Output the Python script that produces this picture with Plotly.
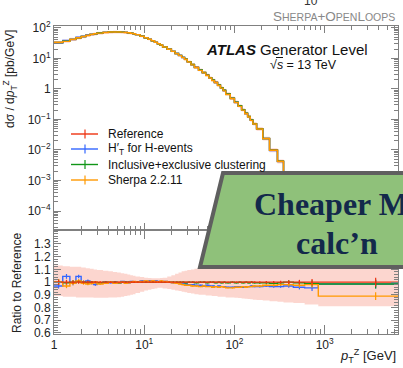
import plotly.graph_objects as go

# ---------------- data ----------------
edges = [1.0, 1.25, 1.5, 1.75, 2.0, 2.25, 2.5, 2.75, 3.0, 3.5, 4, 4.5, 5, 5.5, 6, 6.5, 7, 7.5, 8, 9,
         10, 11, 12, 13, 14, 15, 16, 18, 20, 22, 24, 26, 28, 30, 33, 36, 40, 44, 48, 52,
         56, 60, 65, 70, 75, 80, 90, 100, 110, 120, 130, 140, 150, 160, 176, 206, 245, 300, 350, 450,
         600, 850, 6500]

ref = [33, 37, 42, 47, 52, 57, 61, 64, 68, 71,
       73, 74, 73.5, 72.5, 71, 69, 66.5, 64, 60, 53,
       47, 42, 37.5, 33.5, 30, 27, 23.5, 20, 17, 14.5,
       12.5, 10.8, 9.4, 7.8, 6.3, 5.1, 4.2, 3.45, 2.85, 2.35,
       1.97, 1.65, 1.35, 1.1, 0.9, 0.69, 0.5, 0.37, 0.28, 0.21,
       0.16, 0.125, 0.097, 0.073, 0.050, 0.024, 0.010, 0.0043, 0.0017, 0.00055,
       0.00015, 0.0000025]

ratio_ht = [0.97, 1.045, 0.99, 1.045, 1.0, 1.01, 0.99, 0.98, 0.99, 1.0,
            0.995, 1.0, 0.99, 1.005, 1.0, 0.995, 1.005, 1.0, 1.0, 1.01,
            1.005, 1.01, 1.005, 1.01, 1.005, 1.0, 1.005, 1.0, 0.995, 0.995,
            0.99, 0.985, 0.985, 0.98, 0.98, 0.975, 0.975, 0.97, 0.975, 0.97,
            0.97, 0.965, 0.97, 0.965, 0.965, 0.96, 0.96, 0.965, 0.965, 0.96,
            0.965, 0.965, 0.97, 0.965, 0.965, 0.97, 0.965, 0.965, 0.97, 0.96,
            0.955, 0.985]

ratio_incl = [1.0, 0.995, 1.0, 1.005, 1.0, 0.995, 1.0, 1.0, 0.995, 1.0,
              1.0, 1.0, 0.995, 1.0, 1.0, 1.0, 1.0, 1.0, 1.0, 1.0,
              1.0, 1.0, 1.0, 1.0, 1.0, 1.0, 1.0, 1.0, 1.0, 1.0,
              1.0, 1.0, 0.995, 1.0, 1.0, 0.995, 1.0, 1.0, 0.995, 1.0,
              1.0, 0.995, 1.0, 0.995, 1.0, 0.995, 1.0, 0.995, 1.0, 0.995,
              1.0, 0.995, 1.0, 0.995, 0.995, 0.995, 0.99, 0.995, 1.0, 0.995,
              0.99, 0.985]

ratio_sherpa = [1.0, 0.97, 0.99, 1.01, 0.99, 0.985, 0.99, 1.0, 0.985, 0.99,
                1.0, 0.99, 0.995, 1.0, 0.99, 0.995, 1.0, 1.005, 1.0, 1.005,
                1.01, 1.005, 1.01, 1.005, 1.0, 1.01, 1.005, 1.0, 0.995, 0.99,
                0.985, 0.98, 0.975, 0.975, 0.97, 0.97, 0.965, 0.97, 0.965, 0.965,
                0.96, 0.965, 0.96, 0.965, 0.96, 0.955, 0.955, 0.96, 0.96, 0.965,
                0.96, 0.965, 0.965, 0.97, 0.97, 0.975, 0.975, 0.98, 0.98, 0.975,
                0.98, 0.89]

band_hi = [1.13, 1.125, 1.12, 1.12, 1.115, 1.11, 1.105, 1.10, 1.095, 1.09,
           1.085, 1.08, 1.075, 1.07, 1.065, 1.06, 1.055, 1.05, 1.045, 1.04,
           1.035, 1.032, 1.03, 1.03, 1.03, 1.032, 1.035, 1.045, 1.055, 1.065,
           1.075, 1.085, 1.09, 1.095, 1.10, 1.105, 1.11, 1.11, 1.115, 1.115,
           1.12, 1.12, 1.12, 1.12, 1.12, 1.125, 1.125, 1.13, 1.13, 1.13,
           1.135, 1.135, 1.135, 1.14, 1.14, 1.14, 1.14, 1.145, 1.145, 1.15,
           1.15, 1.15]

band_lo = [0.89, 0.885, 0.885, 0.88, 0.88, 0.88, 0.88, 0.878, 0.878, 0.878,
           0.88, 0.88, 0.882, 0.885, 0.89, 0.895, 0.90, 0.905, 0.915, 0.925,
           0.935, 0.94, 0.945, 0.95, 0.955, 0.955, 0.95, 0.945, 0.94, 0.935,
           0.93, 0.925, 0.92, 0.915, 0.91, 0.905, 0.90, 0.90, 0.895, 0.895,
           0.89, 0.89, 0.885, 0.885, 0.885, 0.88, 0.88, 0.878, 0.875, 0.872,
           0.87, 0.868, 0.865, 0.862, 0.86, 0.855, 0.85, 0.845, 0.84, 0.835,
           0.825, 0.81]

rel_err = [0.02, 0.018, 0.015, 0.013, 0.011, 0.01, 0.009, 0.008, 0.006, 0.005,
           0.004, 0.004, 0.004, 0.004, 0.004, 0.004, 0.004, 0.004, 0.004, 0.004,
           0.004, 0.004, 0.004, 0.004, 0.004, 0.004, 0.004, 0.004, 0.004, 0.004,
           0.004, 0.004, 0.004, 0.004, 0.004, 0.004, 0.004, 0.004, 0.004, 0.004,
           0.004, 0.004, 0.004, 0.004, 0.004, 0.004, 0.004, 0.004, 0.004, 0.004,
           0.005, 0.005, 0.006, 0.006, 0.007, 0.008, 0.009, 0.010, 0.014, 0.018,
           0.025, 0.035]

series_names = ["Reference", "H\u2032<sub>T</sub> for H-events",
                "Inclusive+exclusive clustering", "Sherpa 2.2.11"]
series_colors = ["#EE3311", "#3366FF", "#109618", "#FF9900"]

x_tick_vals = [1, 10, 100, 1000]
x_tick_text = ["1", "10<sup>1</sup>", "10<sup>2</sup>", "10<sup>3</sup>"]
y_tick_vals = [1e-4, 1e-3, 1e-2, 1e-1, 1, 10, 100]
y_tick_text = ["10<sup>\u22124</sup>", "10<sup>\u22123</sup>", "10<sup>\u22122</sup>",
               "10<sup>\u22121</sup>", "1", "10<sup>1</sup>", "10<sup>2</sup>"]
r_tick_vals = [0.6, 0.7, 0.8, 0.9, 1.0, 1.1, 1.2, 1.3]
r_tick_text = ["0.6", "0.7", "0.8", "0.9", "1", "1.1", "1.2", "1.3"]

# ---------------- layout geometry ----------------
W, H = 403, 368
ML, MR, MT, MB = 54, 5, 26, 34
PW, PH = W - ML - MR, H - MT - MB
SPLIT = (H - MB - 230) / PH


def px(x):
    return (x - ML) / PW


def py(y):
    return (H - MB - y) / PH


def step(vals):
    return list(vals) + [vals[-1]]


centers = [(edges[i] + edges[i + 1]) / 2 for i in range(len(ref))]
ratios = [[1.0] * len(ref), ratio_ht, ratio_incl, ratio_sherpa]
BAND = "rgba(238,51,17,0.2)"

fig = go.Figure()

# top panel band
fig.add_trace(go.Scatter(x=edges, y=step([r * l for r, l in zip(ref, band_lo)]), mode="lines",
                         line=dict(width=0, shape="hv"), xaxis="x", yaxis="y", showlegend=False,
                         hoverinfo="skip"))
fig.add_trace(go.Scatter(x=edges, y=step([r * h for r, h in zip(ref, band_hi)]), mode="lines",
                         line=dict(width=0, shape="hv"), fill="tonexty",
                         fillcolor=BAND, xaxis="x", yaxis="y",
                         showlegend=False, hoverinfo="skip"))
for rat, col in zip(ratios, series_colors):
    fig.add_trace(go.Scatter(x=edges, y=step([r * q for r, q in zip(ref, rat)]), mode="lines",
                             line=dict(color=col, width=1.4, shape="hv"),
                             xaxis="x", yaxis="y", showlegend=False))

# ratio panel band
fig.add_trace(go.Scatter(x=edges, y=step(band_lo), mode="lines",
                         line=dict(width=0, shape="hv"), xaxis="x2", yaxis="y2",
                         showlegend=False, hoverinfo="skip"))
fig.add_trace(go.Scatter(x=edges, y=step(band_hi), mode="lines",
                         line=dict(width=0, shape="hv"), fill="tonexty",
                         fillcolor=BAND, xaxis="x2", yaxis="y2",
                         showlegend=False, hoverinfo="skip"))
order = [1, 2, 3, 0]
for k in order:
    rat, col = ratios[k], series_colors[k]
    fig.add_trace(go.Scatter(x=edges, y=step(rat), mode="lines",
                             line=dict(color=col, width=1.4, shape="hv"),
                             xaxis="x2", yaxis="y2", showlegend=False))
    fig.add_trace(go.Scatter(x=centers, y=rat, mode="markers",
                             marker=dict(size=1, color=col),
                             error_y=dict(type="data", array=[q * e for q, e in zip(rat, rel_err)],
                                          width=0, thickness=1.2, color=col),
                             xaxis="x2", yaxis="y2", showlegend=False))

AX = "#808080"
TF = dict(family="Liberation Sans, Arial, sans-serif", size=12, color="#222")


def log_minor(k0, k1):
    return [m * 10 ** k for k in range(k0, k1) for m in range(2, 10)]


common_x = dict(type="log", range=[0, 3.813], showgrid=False, zeroline=False,
                showline=True, linecolor=AX, linewidth=1, mirror="ticks",
                ticks="inside", tickcolor=AX, tickvals=x_tick_vals,
                tickfont=TF)

fig.update_layout(
    width=W, height=H,
    margin=dict(l=ML, r=MR, t=MT, b=MB),
    paper_bgcolor="white", plot_bgcolor="white",
    showlegend=False,
    xaxis=dict(common_x, domain=[0, 1], anchor="y", showticklabels=False, ticklen=7,
               minor=dict(tickvals=log_minor(0, 4), ticks="inside", ticklen=4, tickcolor=AX)),
    xaxis2=dict(common_x, domain=[0, 1], anchor="y2", matches="x", ticktext=x_tick_text,
                ticklen=9, minor=dict(tickvals=log_minor(0, 4), ticks="inside", ticklen=5, tickcolor=AX)),
    yaxis=dict(type="log", domain=[SPLIT, 1], range=[-4.62, 2.06], showgrid=False,
               zeroline=False, showline=True, linecolor=AX, linewidth=1, mirror="ticks",
               ticks="inside", tickcolor=AX, ticklen=7, tickvals=y_tick_vals,
               ticktext=y_tick_text, tickfont=TF,
               minor=dict(tickvals=log_minor(-5, 2), ticks="inside", ticklen=4, tickcolor=AX)),
    yaxis2=dict(domain=[0, SPLIT], range=[0.592, 1.41], showgrid=False, zeroline=False,
                showline=True, linecolor=AX, linewidth=1, mirror="ticks",
                ticks="inside", tickcolor=AX, ticklen=7, tickvals=r_tick_vals,
                ticktext=r_tick_text, tickfont=TF,
                minor=dict(dtick=0.02, ticks="inside", ticklen=4, tickcolor=AX)),
)

ann = []
FF = "Liberation Sans, Arial, sans-serif"
# axis titles
ann.append(dict(x=px(10), y=py(79), text="d\u03c3 / d<i>p</i><sub>T</sub><sup>Z</sup> [pb/GeV]",
                textangle=-90, xanchor="center", yanchor="middle",
                showarrow=False, xref="paper", yref="paper",
                font=dict(family=FF, size=12, color="#222")))
ann.append(dict(x=px(17), y=py(283), text="Ratio to Reference", textangle=-90,
                xanchor="center", yanchor="middle",
                showarrow=False, xref="paper", yref="paper",
                font=dict(family=FF, size=12, color="#222")))
ann.append(dict(x=px(398), y=py(356), text="<i>p</i><sub>T</sub><sup>Z</sup> [GeV]",
                xanchor="right", yanchor="middle", showarrow=False, xref="paper", yref="paper",
                font=dict(family=FF, size=13, color="#222")))
# labels
ann.append(dict(x=px(370), y=py(49), text="<b><i>ATLAS</i></b> Generator Level",
                xanchor="right", yanchor="middle", showarrow=False, xref="paper", yref="paper",
                font=dict(family=FF, size=15, color="#111")))
ann.append(dict(x=px(303), y=py(65),
                text="\u221a<i>s</i> = 13 TeV",
                xanchor="center", yanchor="middle", showarrow=False, xref="paper", yref="paper",
                font=dict(family=FF, size=12.5, color="#111")))
shapes = []
# overline of the sqrt
shapes.append(dict(type="line", xref="paper", yref="paper", x0=px(276), x1=px(283),
                   y0=py(57.5), y1=py(57.5), line=dict(color="#111", width=1)))
sm = "<span style='font-size:10.5px'>"
ann.append(dict(x=px(397), y=py(17),
                text=f"S{sm}HERPA</span>+O{sm}PEN</span>L{sm}OOPS</span>",
                xanchor="right", yanchor="middle", showarrow=False, xref="paper", yref="paper",
                font=dict(family=FF, size=13.5, color="#888")))
ann.append(dict(x=px(311), y=py(1), text="10", xanchor="center", yanchor="middle",
                showarrow=False, xref="paper", yref="paper",
                font=dict(family=FF, size=12, color="#333")))

leg_rows = [134, 149, 164.5, 180]
for name, col, yy in zip(series_names, series_colors, leg_rows):
    shapes.append(dict(type="line", xref="paper", yref="paper", x0=px(71), x1=px(98),
                       y0=py(yy), y1=py(yy), line=dict(color=col, width=1.4)))
    shapes.append(dict(type="line", xref="paper", yref="paper", x0=px(85), x1=px(85),
                       y0=py(yy - 4.5), y1=py(yy + 4.5), line=dict(color=col, width=1.2)))
    ann.append(dict(x=px(106), y=py(yy), text=name, xanchor="left", yanchor="middle",
                    showarrow=False, xref="paper", yref="paper",
                    font=dict(family=FF, size=12, color="#111")))

# overlaid green box
bx = [(223, 173), (425, 173), (425, 267), (200, 267)]
path = "M " + " L ".join(f"{px(a):.4f},{py(b):.4f}" for a, b in bx) + " Z"
shapes.append(dict(type="path", xref="paper", yref="paper", path=path,
                   fillcolor="#8fc17a", line=dict(color="#5f5f5f", width=4), layer="above"))
SF = "Liberation Serif, Times New Roman, serif"
ann.append(dict(x=px(252), y=py(204), text="<b>Cheaper ME</b>", xanchor="left", yanchor="middle",
                showarrow=False, xref="paper", yref="paper",
                font=dict(family=SF, size=32, color="#13294b")))
ann.append(dict(x=px(337), y=py(243), text="<b>calc\u2019n</b>", xanchor="center", yanchor="middle",
                showarrow=False, xref="paper", yref="paper",
                font=dict(family=SF, size=32, color="#13294b")))

fig.update_layout(annotations=ann, shapes=shapes)
fig.write_html("out.html", config={"displayModeBar": False},
               post_script="document.body.style.margin='0';document.body.style.overflow='hidden';")
